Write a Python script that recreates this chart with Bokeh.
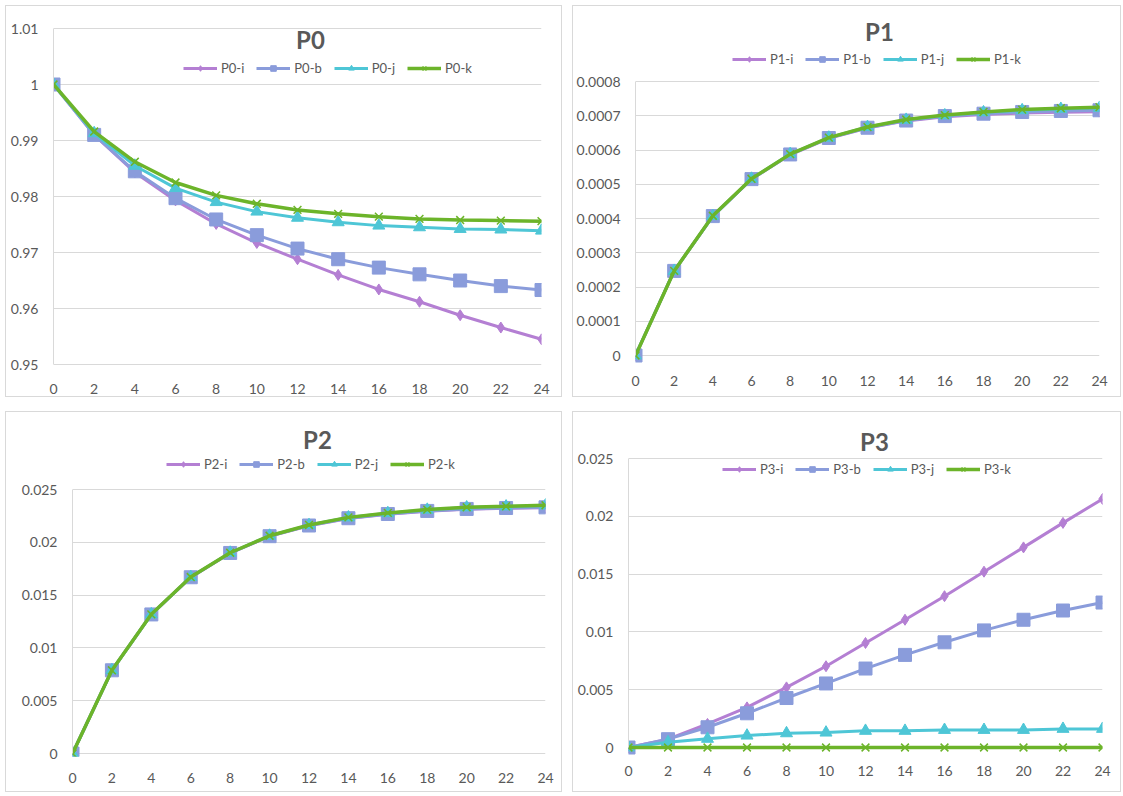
from bokeh.plotting import figure
from bokeh.layouts import column, row
from bokeh.models import (Range1d, FixedTicker, Legend, LegendItem, Label)
from bokeh.embed import file_html
from bokeh.resources import INLINE

# ---------------- data ----------------
hours = [0, 2, 4, 6, 8, 10, 12, 14, 16, 18, 20, 22, 24]

p0_i = [1.0, 0.9910, 0.9843, 0.9793, 0.9751, 0.9717, 0.9688, 0.9660, 0.9634, 0.9612, 0.9588, 0.9566, 0.9545]
p0_b = [1.0, 0.9910, 0.9845, 0.9797, 0.9759, 0.9731, 0.9707, 0.9688, 0.9673, 0.9661, 0.9650, 0.9640, 0.9633]
p0_j = [1.0, 0.9913, 0.9855, 0.9815, 0.9790, 0.9773, 0.9762, 0.9754, 0.9748, 0.9745, 0.9742, 0.9741, 0.9739]
p0_k = [1.0, 0.9916, 0.9862, 0.9825, 0.9802, 0.9787, 0.9776, 0.9769, 0.9764, 0.9760, 0.9758, 0.9757, 0.9756]

p1_i = [0, 0.000247, 0.000407, 0.000515, 0.000586, 0.000634, 0.000664, 0.000685, 0.000697, 0.000704, 0.000708, 0.000710, 0.000712]
p1_b = [0, 0.000247, 0.000407, 0.000515, 0.000587, 0.000635, 0.000665, 0.000686, 0.000699, 0.000706, 0.000711, 0.000714, 0.000716]
p1_j = [0, 0.000247, 0.000407, 0.000516, 0.000588, 0.000636, 0.000667, 0.000688, 0.000701, 0.000710, 0.000716, 0.000720, 0.000723]
p1_k = [0, 0.000247, 0.000408, 0.000516, 0.000588, 0.000636, 0.000667, 0.000689, 0.000702, 0.000711, 0.000718, 0.000722, 0.000725]

p2_i = [0, 0.00788, 0.01317, 0.01668, 0.01898, 0.02057, 0.02157, 0.02226, 0.02266, 0.02294, 0.02313, 0.02322, 0.02327]
p2_b = [0, 0.00788, 0.01317, 0.01669, 0.01899, 0.02058, 0.02159, 0.02228, 0.02268, 0.02297, 0.02316, 0.02325, 0.02331]
p2_j = [0, 0.00788, 0.01318, 0.01671, 0.01901, 0.02062, 0.02163, 0.02235, 0.02276, 0.02308, 0.02330, 0.02339, 0.02349]
p2_k = [0, 0.00788, 0.01318, 0.01671, 0.01901, 0.02062, 0.02164, 0.02236, 0.02278, 0.02310, 0.02332, 0.02341, 0.02351]

p3_i = [0, 0.00072, 0.00204, 0.00347, 0.00520, 0.00703, 0.00904, 0.01105, 0.01309, 0.01521, 0.01731, 0.01943, 0.02150]
p3_b = [0, 0.00072, 0.00175, 0.00296, 0.00428, 0.00554, 0.00683, 0.00801, 0.00910, 0.01013, 0.01105, 0.01185, 0.01254]
p3_j = [0, 0.00046, 0.00075, 0.00103, 0.00123, 0.00129, 0.00144, 0.00144, 0.00152, 0.00152, 0.00152, 0.00161, 0.00161]
p3_k = [0, 0, 0, 0, 0, 0, 0, 0, 0, 0, 0, 0, 0]

x_ticks = hours
x_tick_labels = ["0", "2", "4", "6", "8", "10", "12", "14", "16", "18", "20", "22", "24"]

p0_yticks = [0.95, 0.96, 0.97, 0.98, 0.99, 1.0, 1.01]
p0_ylabels = ["0.95", "0.96", "0.97", "0.98", "0.99", "1", "1.01"]
p1_yticks = [0, 0.0001, 0.0002, 0.0003, 0.0004, 0.0005, 0.0006, 0.0007, 0.0008]
p1_ylabels = ["0", "0.0001", "0.0002", "0.0003", "0.0004", "0.0005", "0.0006", "0.0007", "0.0008"]
p2_yticks = [0, 0.005, 0.01, 0.015, 0.02, 0.025]
p2_ylabels = ["0", "0.005", "0.01", "0.015", "0.02", "0.025"]
p3_yticks = p2_yticks
p3_ylabels = p2_ylabels

suffixes = ["i", "b", "j", "k"]
colors = ["#B47FD3", "#8A9CDB", "#4EC6D6", "#6CB42A"]
markers = ["diamond", "square", "triangle", "x"]
msizes = [11, 13, 12, 11]

FONT = "Lato"
TXT = "#595959"
GRID = "#D9D9D9"


def make_panel(name, series, yticks, ylabels, y_lo_hi, frame_px, width, height,
               borders, title_pos, legend_pos, xlabel_standoff):
    """frame_px = (frame_height, px of top tick below frame top,
    px of bottom tick above frame bottom)"""
    left, right, top, bottom = borders
    fh, top_gap, bot_gap = frame_px
    lo, hi = y_lo_hi
    per_px = (hi - lo) / (fh - top_gap - bot_gap)
    yr = Range1d(lo - bot_gap * per_px, hi + top_gap * per_px)
    p = figure(width=width, height=height, output_backend="svg",
               toolbar_location=None, tools="",
               x_range=Range1d(0, 24), y_range=yr,
               min_border_left=left, min_border_right=right,
               min_border_top=top, min_border_bottom=bottom,
               background_fill_color="white", border_fill_color="white",
               styles={"border": "1px solid #D9D9D9"})
    p.outline_line_color = None
    p.xgrid.grid_line_color = None
    p.ygrid.grid_line_color = GRID
    p.ygrid.grid_line_width = 1
    p.xaxis.ticker = FixedTicker(ticks=x_ticks)
    p.xaxis.major_label_overrides = {t: l for t, l in zip(x_ticks, x_tick_labels)}
    p.yaxis.ticker = FixedTicker(ticks=yticks)
    p.yaxis.major_label_overrides = {t: l for t, l in zip(yticks, ylabels)}
    p.yaxis.bounds = (lo, hi)
    for ax in (p.xaxis, p.yaxis):
        ax.major_tick_line_color = None
        ax.minor_tick_line_color = None
        ax.major_label_text_font = FONT
        ax.major_label_text_font_size = "14px"
        ax.major_label_text_color = TXT
    p.yaxis.axis_line_color = GRID
    p.xaxis.axis_line_color = None  # the gridline at the lowest tick is the axis
    p.xaxis.major_label_standoff = xlabel_standoff
    p.yaxis.major_label_standoff = 9

    items = []
    for suf, col, mk, ms, ys in zip(suffixes, colors, markers, msizes, series):
        lw = 3.5 if suf == "k" else 3
        ln = p.line(hours, ys, line_color=col, line_width=lw)
        if mk == "x":
            sc = p.scatter(hours, ys, marker=mk, size=ms, line_color=col,
                           line_width=1.5)
        else:
            sc = p.scatter(hours, ys, marker=mk, size=ms, fill_color=col,
                           line_color=col)
        items.append(LegendItem(label=f"{name}-{suf}", renderers=[ln, sc]))

    leg = Legend(items=items, orientation="horizontal", location=legend_pos,
                 glyph_width=34, glyph_height=14, label_height=14,
                 label_standoff=4, spacing=12, padding=0, margin=0,
                 label_text_font=FONT, label_text_font_size="13px",
                 label_text_color=TXT, background_fill_alpha=0,
                 border_line_alpha=0)
    p.add_layout(leg, "center")

    p.add_layout(Label(x=title_pos[0], y=title_pos[1], x_units="screen",
                       y_units="screen", text=name, text_align="center",
                       text_baseline="middle", text_font=FONT,
                       text_font_style="bold", text_font_size="24px",
                       text_color=TXT))
    return p


# top row: frames from page y 15 to 366 (height 351)
p0 = make_panel("P0", [p0_i, p0_b, p0_j, p0_k], p0_yticks, p0_ylabels,
                (0.95, 1.01), (351, 13, 2), 557, 392, (47, 22, 9, 32),
                title_pos=(257, 327), legend_pos=(130, 290), xlabel_standoff=11)
p1 = make_panel("P1", [p1_i, p1_b, p1_j, p1_k], p1_yticks, p1_ylabels,
                (0, 0.0008), (351, 66, 11), 549, 392, (61, 23, 9, 32),
                title_pos=(244, 335), legend_pos=(97, 299), xlabel_standoff=3)
# bottom row: frames from page y 425 to 758 (height 333)
p2 = make_panel("P2", [p2_i, p2_b, p2_j, p2_k], p2_yticks, p2_ylabels,
                (0, 0.025), (333, 66, 3), 557, 381, (66, 18, 11, 37),
                title_pos=(245, 317), legend_pos=(94, 284), xlabel_standoff=10)
p3 = make_panel("P3", [p3_i, p3_b, p3_j, p3_k], p3_yticks, p3_ylabels,
                (0, 0.025), (333, 35, 9), 549, 381, (55, 20, 11, 37),
                title_pos=(246, 315), legend_pos=(94, 279), xlabel_standoff=3)

layout = column(row(p0, p1, spacing=10), row(p2, p3, spacing=10),
                spacing=14, margin=(5, 0, 0, 5))

open("out.html", "w").write(file_html(layout, INLINE))
